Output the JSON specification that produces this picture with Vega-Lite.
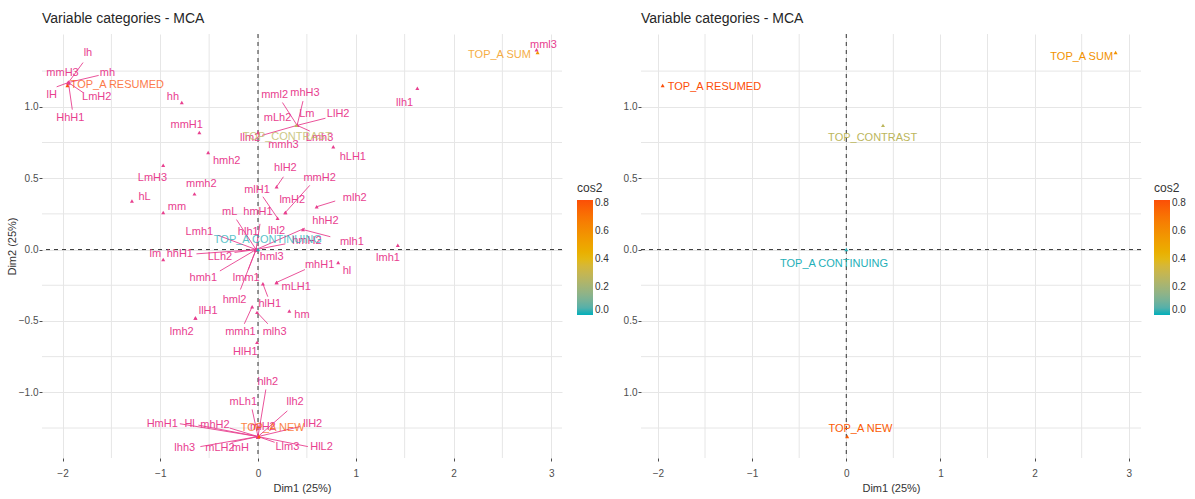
{
  "$schema": "https://vega.github.io/schema/vega-lite/v6.json",
  "background": "white",
  "padding": {"left": 6, "top": 11, "right": 5, "bottom": 5},
  "datasets": {
    "act": [
      {"name": "lh", "x": -1.94, "y": 1.17, "lx": -1.74, "ly": 1.38, "ex": -1.79, "ey": 1.31},
      {"name": "mmH3", "x": -1.94, "y": 1.17, "lx": -2.0, "ly": 1.24},
      {"name": "mh", "x": -1.94, "y": 1.17, "lx": -1.54, "ly": 1.24, "ex": -1.63, "ey": 1.22},
      {"name": "lH", "x": -1.94, "y": 1.17, "lx": -2.11, "ly": 1.08, "ex": -2.06, "ey": 1.14},
      {"name": "LmH2", "x": -1.94, "y": 1.17, "lx": -1.65, "ly": 1.07, "ex": -1.79, "ey": 1.1},
      {"name": "HhH1", "x": -1.94, "y": 1.17, "lx": -1.92, "ly": 0.92, "ex": -1.9, "ey": 0.98},
      {"name": "hh", "x": -0.78, "y": 1.03, "lx": -0.87, "ly": 1.07},
      {"name": "mmH1", "x": -0.6, "y": 0.82, "lx": -0.73, "ly": 0.87},
      {"name": "hmh2", "x": -0.51, "y": 0.68, "lx": -0.32, "ly": 0.62},
      {"name": "LmH3", "x": -0.97, "y": 0.59, "lx": -1.08, "ly": 0.5},
      {"name": "mmh2", "x": -0.65, "y": 0.39, "lx": -0.58, "ly": 0.46},
      {"name": "hL", "x": -1.29, "y": 0.34, "lx": -1.16, "ly": 0.37},
      {"name": "mm", "x": -0.97, "y": 0.26, "lx": -0.83, "ly": 0.3},
      {"name": "lm", "x": -0.97, "y": -0.07, "lx": -1.05, "ly": -0.03},
      {"name": "llh1", "x": 1.63, "y": 1.13, "lx": 1.5, "ly": 1.03},
      {"name": "mml3", "x": 2.85, "y": 1.4, "lx": 2.92, "ly": 1.43},
      {"name": "hLH1", "x": 0.77, "y": 0.72, "lx": 0.97, "ly": 0.65},
      {"name": "lmh1", "x": 1.43, "y": 0.03, "lx": 1.33, "ly": -0.06},
      {"name": "hl", "x": 0.82, "y": -0.09, "lx": 0.91, "ly": -0.15},
      {"name": "hm", "x": 0.32, "y": -0.43, "lx": 0.45, "ly": -0.46},
      {"name": "mml2", "x": 0.4, "y": 0.87, "lx": 0.17, "ly": 1.08, "ex": 0.25, "ey": 1.03},
      {"name": "mhH3", "x": 0.4, "y": 0.87, "lx": 0.48, "ly": 1.1, "ex": 0.46, "ey": 1.04},
      {"name": "mLh2", "x": 0.4, "y": 0.87, "lx": 0.2, "ly": 0.92},
      {"name": "Lm", "x": 0.4, "y": 0.87, "lx": 0.5, "ly": 0.95},
      {"name": "LlH2", "x": 0.4, "y": 0.87, "lx": 0.82, "ly": 0.95, "ex": 0.69, "ey": 0.92},
      {"name": "Lmh3", "x": 0.4, "y": 0.87, "lx": 0.63, "ly": 0.78, "ex": 0.53, "ey": 0.83},
      {"name": "llm2", "x": 0.4, "y": 0.87, "lx": -0.08, "ly": 0.78, "ex": 0.04, "ey": 0.8},
      {"name": "mmh3", "x": 0.0, "y": 0.82, "lx": 0.26, "ly": 0.73},
      {"name": "hlH2", "x": 0.19, "y": 0.44, "lx": 0.28, "ly": 0.57, "ex": 0.26, "ey": 0.51},
      {"name": "mmH2", "x": 0.28, "y": 0.26, "lx": 0.63, "ly": 0.5, "ex": 0.53, "ey": 0.45},
      {"name": "lmH2", "x": 0.28, "y": 0.26, "lx": 0.35, "ly": 0.35},
      {"name": "mlH1", "x": 0.2, "y": 0.22, "lx": -0.01, "ly": 0.42, "ex": 0.05, "ey": 0.37},
      {"name": "mlh2", "x": 0.6, "y": 0.3, "lx": 0.99, "ly": 0.36, "ex": 0.79, "ey": 0.34},
      {"name": "mlh1", "x": 0.46, "y": 0.14, "lx": 0.96, "ly": 0.05, "ex": 0.74, "ey": 0.09},
      {"name": "hmH1", "x": -0.02, "y": 0.0, "lx": 0.0, "ly": 0.26, "ex": 0.02, "ey": 0.18},
      {"name": "mL", "x": -0.02, "y": 0.0, "lx": -0.29, "ly": 0.26, "ex": -0.22, "ey": 0.21},
      {"name": "Lmh1", "x": -0.02, "y": 0.0, "lx": -0.6, "ly": 0.12, "ex": -0.41, "ey": 0.1},
      {"name": "hlh1", "x": -0.02, "y": 0.0, "lx": -0.1, "ly": 0.12},
      {"name": "lhl2", "x": -0.02, "y": 0.0, "lx": 0.19, "ly": 0.13},
      {"name": "hhH2", "x": -0.02, "y": 0.0, "lx": 0.69, "ly": 0.2, "ex": 0.48, "ey": 0.15},
      {"name": "hmH2", "x": -0.02, "y": 0.0, "lx": 0.5, "ly": 0.06, "ex": 0.28, "ey": 0.04},
      {"name": "hml3", "x": -0.02, "y": 0.0, "lx": 0.14, "ly": -0.05},
      {"name": "LLh2", "x": -0.02, "y": 0.0, "lx": -0.39, "ly": -0.05, "ex": -0.24, "ey": -0.02},
      {"name": "hhH1", "x": -0.02, "y": 0.0, "lx": -0.8, "ly": -0.03, "ex": -0.63, "ey": -0.03},
      {"name": "hmh1", "x": -0.02, "y": 0.0, "lx": -0.56, "ly": -0.2, "ex": -0.39, "ey": -0.15},
      {"name": "lmm1", "x": -0.02, "y": 0.0, "lx": -0.12, "ly": -0.2, "ex": -0.1, "ey": -0.14},
      {"name": "hml2", "x": -0.02, "y": 0.0, "lx": -0.24, "ly": -0.35, "ex": -0.18, "ey": -0.28},
      {"name": "hlH1", "x": 0.05, "y": -0.24, "lx": 0.12, "ly": -0.38, "ex": 0.1, "ey": -0.33},
      {"name": "mhH1", "x": 0.19, "y": -0.23, "lx": 0.63, "ly": -0.11, "ex": 0.48, "ey": -0.14},
      {"name": "mLH1", "x": 0.19, "y": -0.23, "lx": 0.39, "ly": -0.26},
      {"name": "mmh1", "x": -0.06, "y": -0.4, "lx": -0.18, "ly": -0.58, "ex": -0.14, "ey": -0.52},
      {"name": "mlh3", "x": -0.01, "y": -0.44, "lx": 0.17, "ly": -0.58, "ex": 0.1, "ey": -0.52},
      {"name": "HlH1", "x": -0.01, "y": -0.65, "lx": -0.13, "ly": -0.72},
      {"name": "llH1", "x": -0.64, "y": -0.48, "lx": -0.51, "ly": -0.43},
      {"name": "lmh2", "x": -0.64, "y": -0.48, "lx": -0.78, "ly": -0.58},
      {"name": "hlh2", "x": 0.0, "y": -1.31, "lx": 0.1, "ly": -0.93, "ex": 0.08, "ey": -0.98},
      {"name": "mLh1", "x": 0.0, "y": -1.31, "lx": -0.15, "ly": -1.07, "ex": -0.06, "ey": -1.12},
      {"name": "llh2", "x": 0.0, "y": -1.31, "lx": 0.38, "ly": -1.07, "ex": 0.3, "ey": -1.13},
      {"name": "HmH1", "x": 0.0, "y": -1.31, "lx": -0.98, "ly": -1.22, "ex": -0.8, "ey": -1.22},
      {"name": "Hl", "x": 0.0, "y": -1.31, "lx": -0.7, "ly": -1.22, "ex": -0.61, "ey": -1.23},
      {"name": "mhH2", "x": 0.0, "y": -1.31, "lx": -0.44, "ly": -1.23, "ex": -0.29, "ey": -1.25},
      {"name": "llH2", "x": 0.0, "y": -1.31, "lx": 0.56, "ly": -1.22, "ex": 0.43, "ey": -1.24},
      {"name": "mlH2", "x": 0.0, "y": -1.31, "lx": 0.05, "ly": -1.24},
      {"name": "lhh3", "x": 0.0, "y": -1.31, "lx": -0.75, "ly": -1.39, "ex": -0.59, "ey": -1.38},
      {"name": "mLH2", "x": 0.0, "y": -1.31, "lx": -0.39, "ly": -1.39, "ex": -0.27, "ey": -1.35},
      {"name": "mH", "x": 0.0, "y": -1.31, "lx": -0.18, "ly": -1.39},
      {"name": "Llm3", "x": 0.0, "y": -1.31, "lx": 0.3, "ly": -1.38, "ex": 0.17, "ey": -1.35},
      {"name": "HlL2", "x": 0.0, "y": -1.31, "lx": 0.65, "ly": -1.38, "ex": 0.51, "ey": -1.38}
    ],
    "sup": [
      {"name": "TOP_A RESUMED", "x": -1.95, "y": 1.15, "cos2": 0.82, "lxL": -1.44, "lyL": 1.15, "lxR": -1.4, "lyR": 1.14},
      {"name": "TOP_A SUM", "x": 2.86, "y": 1.38, "cos2": 0.58, "lxL": 2.47, "lyL": 1.36, "lxR": 2.5, "lyR": 1.35},
      {"name": "TOP_CONTRAST", "x": 0.39, "y": 0.87, "cos2": 0.27, "lxL": 0.3, "lyL": 0.79, "lxR": 0.28, "lyR": 0.78},
      {"name": "TOP_A CONTINUING", "x": 0.0, "y": 0.0, "cos2": 0.01, "lxL": 0.1, "lyL": 0.07, "lxR": -0.13, "lyR": -0.1},
      {"name": "TOP_A NEW", "x": 0.01, "y": -1.31, "cos2": 0.78, "lxL": 0.15, "lyL": -1.25, "lxR": 0.15, "lyR": -1.26}
    ],
    "minorY": [{"v": -1.25}, {"v": -0.75}, {"v": -0.25}, {"v": 0.25}, {"v": 0.75}, {"v": 1.25}],
    "minorX": [{"v": -1.5}, {"v": -0.5}, {"v": 0.5}, {"v": 1.5}, {"v": 2.5}]
  },
  "config": {
    "view": {"stroke": null},
    "font": "Liberation Sans",
    "axis": {
      "domain": false,
      "grid": true,
      "gridColor": "#E6E6E6",
      "gridWidth": 1,
      "tickSize": 3,
      "tickColor": "#4D4D4D",
      "labelColor": "#4D4D4D",
      "labelFontSize": 10,
      "labelOverlap": false,
      "titleColor": "#333333",
      "titleFontSize": 11,
      "titleFontWeight": "normal"
    },
    "axisX": {"labelPadding": 7},
    "axisY": {"labelPadding": 1, "titlePadding": 1},
    "title": {"fontSize": 14, "fontWeight": "normal", "color": "#262626", "anchor": "start", "frame": "group", "offset": 8},
    "legend": {
      "orient": "none",
      "gradientLength": 115,
      "gradientThickness": 16,
      "gradientStrokeWidth": 0,
      "titleFontSize": 12,
      "titleFontWeight": "normal",
      "titleColor": "#333333",
      "labelFontSize": 10,
      "labelColor": "#333333",
      "titlePadding": 5
    }
  },
  "spacing": 14,
  "resolve": {
    "scale": {"color": "independent", "x": "independent", "y": "independent"},
    "legend": {"color": "independent"}
  },
  "hconcat": [
    {
      "width": 520,
      "height": 424,
      "title": "Variable categories - MCA",
      "layer": [
        {
          "data": {"name": "minorY"},
          "mark": {"type": "rule", "color": "#E6E6E6", "strokeWidth": 1},
          "encoding": {"y": {"field": "v", "type": "quantitative", "title": "Dim2 (25%)"}}
        },
        {
          "data": {"name": "minorX"},
          "mark": {"type": "rule", "color": "#E6E6E6", "strokeWidth": 1},
          "encoding": {"x": {"field": "v", "type": "quantitative", "title": "Dim1 (25%)"}}
        },
        {
          "data": {"values": [{}]},
          "mark": {"type": "rule", "color": "#333333", "strokeDash": [4, 4], "strokeWidth": 1},
          "encoding": {"x": {"datum": 0, "type": "quantitative", "title": "Dim1 (25%)"}}
        },
        {
          "data": {"values": [{}]},
          "mark": {"type": "rule", "color": "#333333", "strokeDash": [4, 4], "strokeWidth": 1},
          "encoding": {"y": {"datum": 0, "type": "quantitative", "title": "Dim2 (25%)"}}
        },
        {
          "data": {"name": "act"},
          "transform": [{"filter": "isValid(datum.ex)"}],
          "mark": {"type": "rule", "color": "#E8408F", "strokeWidth": 0.9},
          "encoding": {
            "x": {"field": "x", "type": "quantitative", "title": "Dim1 (25%)"},
            "y": {"field": "y", "type": "quantitative", "title": "Dim2 (25%)"},
            "x2": {"field": "ex"},
            "y2": {"field": "ey"}
          }
        },
        {
          "data": {"name": "act"},
          "mark": {"type": "point", "shape": "triangle-up", "filled": true, "size": 16, "opacity": 1, "color": "#E8408F"},
          "encoding": {
            "x": {
              "field": "x", "type": "quantitative", "title": "Dim1 (25%)",
              "scale": {"domain": [-2.21, 3.11], "nice": false, "zero": false},
              "axis": {"grid": true, "values": [-2, -1, 0, 1, 2, 3], "format": "d"}
            },
            "y": {
              "field": "y", "type": "quantitative", "title": "Dim2 (25%)",
              "scale": {"domain": [-1.46, 1.51], "nice": false, "zero": false},
              "axis": {"grid": true, "values": [-1, -0.5, 0, 0.5, 1], "format": ".1f"}
            }
          }
        },
        {
          "data": {"name": "act"},
          "mark": {"type": "text", "color": "#E8408F", "fontSize": 11, "font": "Liberation Sans", "align": "center", "baseline": "middle"},
          "encoding": {
            "x": {"field": "lx", "type": "quantitative", "title": "Dim1 (25%)"},
            "y": {"field": "ly", "type": "quantitative", "title": "Dim2 (25%)"},
            "text": {"field": "name"}
          }
        },
        {
          "data": {"name": "sup"},
          "mark": {"type": "point", "shape": "triangle-up", "filled": true, "size": 16, "opacity": 1},
          "encoding": {
            "x": {"field": "x", "type": "quantitative", "title": "Dim1 (25%)"},
            "y": {"field": "y", "type": "quantitative", "title": "Dim2 (25%)"},
            "color": {
              "field": "cos2", "type": "quantitative", "title": "cos2",
              "scale": {"domain": [0, 0.82], "range": ["#00AFBB", "#E7B800", "#FC4E07"], "interpolate": "lab"},
              "legend": {"values": [0, 0.2, 0.4, 0.6, 0.8], "format": ".1f", "legendX": 535, "legendY": 149}
            }
          }
        },
        {
          "data": {"name": "sup"},
          "mark": {"type": "text", "fontSize": 11, "font": "Liberation Sans", "align": "center", "baseline": "middle", "opacity": 0.75},
          "encoding": {
            "x": {"field": "lxL", "type": "quantitative", "title": "Dim1 (25%)"},
            "y": {"field": "lyL", "type": "quantitative", "title": "Dim2 (25%)"},
            "text": {"field": "name"},
            "color": {"field": "cos2", "type": "quantitative", "title": "cos2"}
          }
        }
      ]
    },
    {
      "width": 500,
      "height": 424,
      "title": "Variable categories - MCA",
      "layer": [
        {
          "data": {"name": "minorY"},
          "mark": {"type": "rule", "color": "#E6E6E6", "strokeWidth": 1},
          "encoding": {"y": {"field": "v", "type": "quantitative", "title": null}}
        },
        {
          "data": {"name": "minorX"},
          "mark": {"type": "rule", "color": "#E6E6E6", "strokeWidth": 1},
          "encoding": {"x": {"field": "v", "type": "quantitative", "title": "Dim1 (25%)"}}
        },
        {
          "data": {"values": [{}]},
          "mark": {"type": "rule", "color": "#333333", "strokeDash": [4, 4], "strokeWidth": 1},
          "encoding": {"x": {"datum": 0, "type": "quantitative", "title": "Dim1 (25%)"}}
        },
        {
          "data": {"values": [{}]},
          "mark": {"type": "rule", "color": "#333333", "strokeDash": [4, 4], "strokeWidth": 1},
          "encoding": {"y": {"datum": 0, "type": "quantitative", "title": null}}
        },
        {
          "data": {"name": "sup"},
          "mark": {"type": "point", "shape": "triangle-up", "filled": true, "size": 16, "opacity": 1},
          "encoding": {
            "x": {
              "field": "x", "type": "quantitative", "title": "Dim1 (25%)",
              "scale": {"domain": [-2.18, 3.13], "nice": false, "zero": false},
              "axis": {"grid": true, "values": [-2, -1, 0, 1, 2, 3], "format": "d"}
            },
            "y": {
              "field": "y", "type": "quantitative", "title": null,
              "scale": {"domain": [-1.46, 1.51], "nice": false, "zero": false},
              "axis": {"grid": true, "values": [-1, -0.5, 0, 0.5, 1], "labelExpr": "format(abs(datum.value), '.1f')"}
            },
            "color": {
              "field": "cos2", "type": "quantitative", "title": "cos2",
              "scale": {"domain": [0, 0.82], "range": ["#00AFBB", "#E7B800", "#FC4E07"], "interpolate": "lab"},
              "legend": {"values": [0, 0.2, 0.4, 0.6, 0.8], "format": ".1f", "legendX": 513, "legendY": 149}
            }
          }
        },
        {
          "data": {"name": "sup"},
          "mark": {"type": "text", "fontSize": 11, "font": "Liberation Sans", "align": "center", "baseline": "middle"},
          "encoding": {
            "x": {"field": "lxR", "type": "quantitative", "title": "Dim1 (25%)"},
            "y": {"field": "lyR", "type": "quantitative", "title": null},
            "text": {"field": "name"},
            "color": {"field": "cos2", "type": "quantitative", "title": "cos2"}
          }
        }
      ]
    }
  ]
}
